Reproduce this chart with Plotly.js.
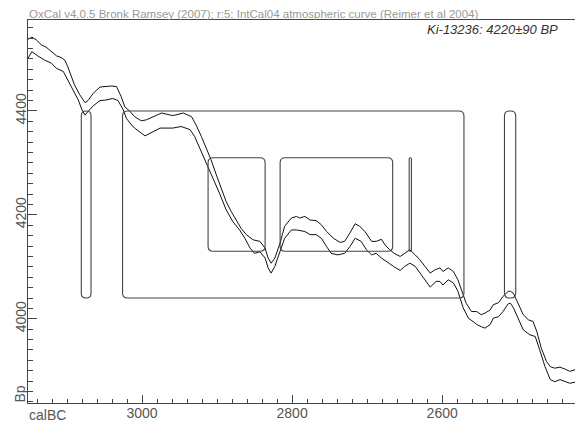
<!DOCTYPE html>
<html>
<head>
<meta charset="utf-8">
<script src="https://cdn.plot.ly/plotly-3.0.1.min.js"></script>
<style>html,body{margin:0;padding:0;background:#fff;}#chart{width:575px;height:423px;}</style>
</head>
<body>
<div id="chart"></div>
<script>
// IntCal04 curve, upper (+1 sigma) edge: calendar years BC and radiocarbon BP
const upperYears = [3152,3147,3141,3134,3128,3121,3114,3108,3103,3099,3094,3090,3083,3076,3072,3065,3056,3041,3034,3028,3023,3016,3010,3001,2994,2985,2974,2959,2945,2934,2928,2921,2914,2908,2901,2894,2888,2881,2874,2868,2861,2852,2843,2836,2832,2828,2823,2816,2810,2801,2794,2790,2783,2776,2768,2761,2754,2745,2736,2730,2723,2716,2710,2703,2694,2688,2681,2676,2670,2663,2656,2650,2643,2636,2630,2623,2616,2610,2603,2599,2592,2585,2579,2572,2568,2561,2554,2548,2543,2536,2532,2525,2519,2512,2509,2505,2499,2492,2485,2479,2474,2468,2461,2456,2450,2443,2436,2430,2423];
const upperBP = [4538,4542,4537,4527,4523,4514,4506,4503,4498,4485,4466,4450,4431,4416,4420,4434,4446,4448,4447,4428,4408,4399,4389,4381,4383,4389,4396,4391,4396,4389,4373,4351,4328,4306,4277,4251,4226,4206,4190,4174,4162,4152,4149,4136,4117,4107,4117,4146,4178,4194,4197,4194,4197,4190,4189,4181,4168,4155,4147,4149,4165,4183,4178,4168,4149,4149,4153,4142,4133,4125,4120,4126,4133,4123,4114,4101,4088,4094,4098,4091,4098,4091,4075,4046,4030,4014,4014,4008,4011,4017,4027,4031,4043,4053,4053,4049,4030,4008,3998,3995,3976,3944,3918,3908,3905,3907,3903,3899,3902];
// IntCal04 curve, lower (-1 sigma) edge
const lowerYears = [3152,3147,3139,3130,3121,3114,3105,3099,3092,3085,3080,3076,3072,3065,3056,3048,3039,3032,3025,3021,3014,3010,2996,2976,2959,2948,2936,2930,2923,2914,2905,2896,2888,2879,2870,2863,2856,2850,2843,2836,2832,2828,2823,2816,2810,2801,2794,2783,2776,2768,2761,2754,2748,2739,2730,2723,2716,2708,2701,2694,2688,2681,2672,2665,2656,2650,2643,2636,2628,2616,2608,2603,2599,2592,2585,2579,2572,2565,2559,2554,2548,2543,2536,2532,2525,2519,2512,2509,2505,2499,2492,2483,2476,2470,2463,2456,2450,2443,2436,2430,2423];
const lowerBP = [4501,4514,4506,4498,4492,4482,4476,4460,4440,4421,4402,4392,4399,4410,4420,4421,4424,4420,4402,4386,4373,4367,4352,4367,4367,4370,4364,4351,4328,4299,4271,4239,4210,4187,4171,4155,4136,4126,4129,4117,4098,4088,4101,4129,4155,4171,4171,4168,4162,4162,4155,4139,4126,4123,4126,4139,4155,4149,4133,4123,4126,4117,4107,4101,4093,4101,4107,4101,4085,4061,4072,4072,4065,4075,4069,4053,4021,4001,3995,3989,3985,3982,3989,4001,4004,4014,4029,4030,4021,4001,3979,3969,3966,3940,3908,3883,3879,3883,3879,3876,3878];

// Measurement Ki-13236
const sampleLabel = "Ki-13236";
const bpMean = 4220;
const bpSigma = 90;
// Calibrated ranges (calBC, from -> to)
const range2Sigma = [[3081, 3068], [3026, 2571], [2517, 2502]];
const range1Sigma = [[2912, 2836], [2816, 2666], [2644, 2641]];

const xTickVals = [3000, 2800, 2600];
const xTickText = ["3000", "2800", "2600"];
const yTickVals = [4000, 4200, 4400];
const yTickText = ["4000", "4200", "4400"];

const xRange = [3152, 2423];
const yRange = [3838, 4575];
const margin = {l: 28, r: 0, t: 20, b: 20};
const W = 575, H = 423;
const pxPerYr = (W - margin.l - margin.r) / Math.abs(xRange[0] - xRange[1]);
const pxPerBP = (H - margin.t - margin.b) / Math.abs(yRange[1] - yRange[0]);

function roundedBox(L, R, y0, y1, rPx) {
  const wPx = Math.abs(L - R) * pxPerYr;
  const r = Math.min(rPx, wPx / 2);
  const rx = r / pxPerYr, ry = r / pxPerBP;
  return `M ${L},${y0 + ry} L ${L},${y1 - ry} Q ${L},${y1} ${L - rx},${y1} ` +
         `L ${R + rx},${y1} Q ${R},${y1} ${R},${y1 - ry} L ${R},${y0 + ry} ` +
         `Q ${R},${y0} ${R + rx},${y0} L ${L - rx},${y0} Q ${L},${y0} ${L},${y0 + ry} Z`;
}

const boxLine = {color: '#444', width: 1.1};
const shapes = [];
range2Sigma.forEach(([a, b]) => {
  shapes.push({type: 'path', xref: 'x', yref: 'y', path: roundedBox(a, b, bpMean - 2 * bpSigma, bpMean + 2 * bpSigma, 5), line: boxLine});
});
range1Sigma.forEach(([a, b]) => {
  shapes.push({type: 'path', xref: 'x', yref: 'y', path: roundedBox(a, b, bpMean - bpSigma, bpMean + bpSigma, 5), line: boxLine});
});

const curveLine = {color: '#111', width: 1};
const data = [
  {x: upperYears, y: upperBP, type: 'scatter', mode: 'lines', line: curveLine, hoverinfo: 'skip', showlegend: false},
  {x: lowerYears, y: lowerBP, type: 'scatter', mode: 'lines', line: curveLine, hoverinfo: 'skip', showlegend: false}
];

const tickFont = {family: 'Liberation Sans, Arial, sans-serif', size: 14, color: '#555'};
const layout = {
  width: W, height: H, margin: margin,
  paper_bgcolor: '#fff', plot_bgcolor: '#fff',
  showlegend: false,
  xaxis: {
    range: xRange, showgrid: false, zeroline: false,
    showline: true, linecolor: '#444', linewidth: 1, mirror: true,
    ticks: 'inside', ticklen: 8, tickcolor: '#444', tickwidth: 1,
    tickvals: xTickVals, ticktext: xTickText, tickfont: tickFont,
    ticklabelstandoff: -3,
    minor: {dtick: 20, tick0: 3000, ticks: 'inside', ticklen: 4, tickcolor: '#444', showgrid: false}
  },
  yaxis: {
    range: yRange, showgrid: false, zeroline: false,
    showline: true, linecolor: '#444', linewidth: 1,
    ticks: 'inside', ticklen: 9, tickcolor: '#444', tickwidth: 1,
    tickvals: yTickVals, ticktext: yTickText, tickfont: tickFont, tickangle: -90,
    ticklabelstandoff: -5,
    minor: {dtick: 20, tick0: 4000, ticks: 'inside', ticklen: 5, tickcolor: '#444', showgrid: false}
  },
  shapes: shapes,
  annotations: [
    {xref: 'paper', yref: 'paper', x: 0, y: 1, xanchor: 'left', yanchor: 'bottom', xshift: -1, yshift: -2, showarrow: false,
     text: 'OxCal v4.0.5 Bronk Ramsey (2007); r:5; IntCal04 atmospheric curve (Reimer et al 2004)',
     font: {family: 'Liberation Sans, Arial, sans-serif', size: 11.5, color: '#999'}},
    {xref: 'paper', yref: 'paper', x: 1, y: 1, xanchor: 'right', yanchor: 'top', xshift: -15, yshift: 0, showarrow: false,
     text: '<i>' + sampleLabel + ': ' + bpMean + '\u00B1' + bpSigma + ' BP</i>',
     font: {family: 'Liberation Sans, Arial, sans-serif', size: 13, color: '#333'}},
    {xref: 'paper', yref: 'paper', x: 0, y: 0, xanchor: 'left', yanchor: 'top', xshift: -1, yshift: -2, showarrow: false,
     text: 'calBC', font: tickFont},
    {xref: 'paper', yref: 'paper', x: 0, y: 0, xanchor: 'right', yanchor: 'bottom', xshift: 1, yshift: -2, showarrow: false,
     text: 'Bp', textangle: -90, font: tickFont}
  ]
};

Plotly.newPlot('chart', data, layout, {staticPlot: true, displayModeBar: false});
</script>
</body>
</html>
